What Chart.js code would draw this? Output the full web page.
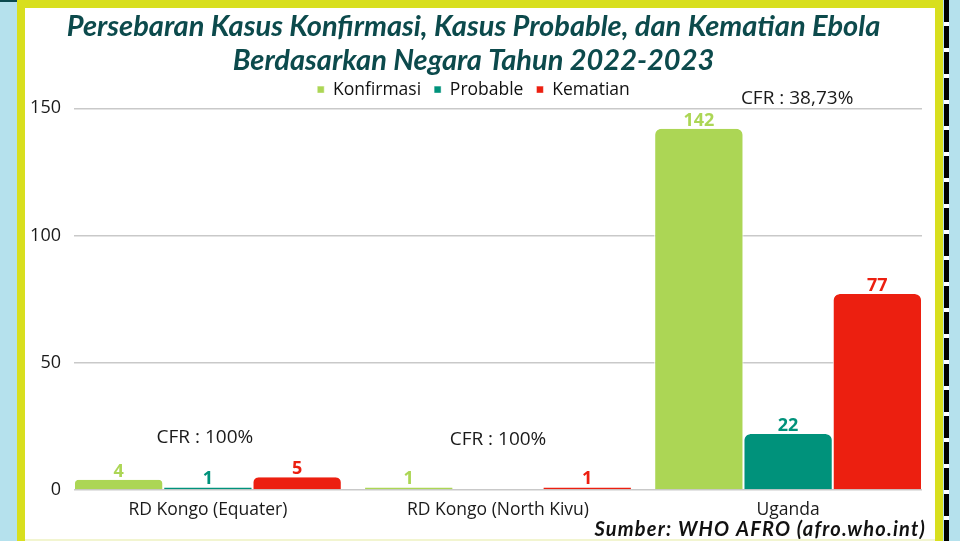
<!DOCTYPE html>
<html>
<head>
<meta charset="utf-8">
<script src="https://cdn.jsdelivr.net/npm/chart.js@4"></script>
<style>
  html, body { margin: 0; padding: 0; }
  body { width: 960px; height: 541px; background: #b5e1ed; position: relative; overflow: hidden; }
  .topline { position: absolute; left: 0; top: 0; width: 17px; height: 2px; background: #0b4a4f; }
  .frame { position: absolute; left: 17px; top: 0; width: 926px; height: 541px; background: #d8df1e; }
  .panel { position: absolute; left: 8px; top: 8px; width: 910px; height: 533px; background: #fff; }
  .dash { position: absolute; left: 944px; top: 0; width: 5px; height: 541px;
          background: repeating-linear-gradient(to bottom, #000 0 22px, #fff 22px 26px); }
  .bottomline { position: absolute; left: 25px; top: 539px; width: 910px; height: 2px; background: #f2f5d0; }
</style>
</head>
<body>
<div class="topline"></div>
<div class="frame"><div class="panel"><canvas id="ebolaChart" width="910" height="533"></canvas></div></div>
<div class="dash"></div>
<div class="bottomline"></div>
<script>
// data kasus ebola per negara
const categories = ['RD Kongo (Equater)', 'RD Kongo (North Kivu)', 'Uganda'];
const konfirmasi = [4, 1, 142];
const probable = [1, 0, 22];
const kematian = [5, 1, 77];
const cfrLabels = ['CFR : 100%', 'CFR : 100%', 'CFR : 38,73%'];
const yTicks = [0, 50, 100, 150];
const sumber = 'Sumber: WHO AFRO (afro.who.int)';

// lebar grup batang (bagian dari satu kategori)
const GROUP = 0.923;

// label angka di atas batang + label CFR per negara + sumber
const valueLabels = {
    id: 'valueLabels',
    afterDatasetsDraw(chart, args, opts) {
        const { ctx, scales } = chart;
        ctx.save();
        ctx.textAlign = 'center';
        ctx.textBaseline = 'alphabetic';
        ctx.font = 'bold 18px "Open Sans"';
        chart.data.datasets.forEach((ds, i) => {
            chart.getDatasetMeta(i).data.forEach((bar, j) => {
                const v = ds.data[j];
                if (!v) return;
                ctx.fillStyle = ds.backgroundColor;
                ctx.fillText(v, bar.x, bar.y - 3);
            });
        });
        // CFR
        ctx.font = '19px "Open Sans"';
        ctx.fillStyle = '#1a1a1a';
        ctx.textBaseline = 'middle';
        cfrLabels.forEach((t, j) => {
            const x = scales.x.getPixelForValue(j) + opts.shift[j];
            const y = scales.y.getPixelForValue(opts.at[j]);
            ctx.fillText(t, x, y);
        });
        // sumber data
        ctx.font = 'italic bold 20px Lato';
        ctx.letterSpacing = '1.2px';
        ctx.fillStyle = '#111';
        ctx.textAlign = 'right';
        ctx.textBaseline = 'alphabetic';
        ctx.fillText(sumber, chart.width - 9, chart.height - 5);
        ctx.restore();
    }
};

const ctx = document.getElementById('ebolaChart');
new Chart(ctx, {
    type: 'bar',
    data: {
        labels: categories.map((c, i) => i),
        datasets: [
            { label: 'Konfirmasi', data: konfirmasi, backgroundColor: '#acd655' },
            { label: 'Probable', data: probable, backgroundColor: '#00927b' },
            { label: 'Kematian', data: kematian, backgroundColor: '#ec1f10' }
        ]
    },
    options: {
        responsive: false,
        animation: false,
        devicePixelRatio: 1,
        layout: { padding: { left: 0, right: 13, top: 0, bottom: 18 } },
        datasets: {
            bar: {
                categoryPercentage: GROUP,
                barPercentage: 1,
                borderRadius: { topLeft: 7, topRight: 7 },
                borderSkipped: 'bottom',
                borderWidth: { left: 1, right: 1 },
                borderColor: '#ffffff'
            }
        },
        plugins: {
            title: {
                display: true,
                text: ['Persebaran Kasus Konfirmasi, Kasus Probable, dan Kematian Ebola',
                       'Berdasarkan Negara Tahun 2022-2023'],
                color: '#0c4a4c',
                font: { family: 'Lato', size: 29, style: 'italic', weight: 'bold', lineHeight: 1.17 },
                padding: { top: 2, bottom: -10 }
            },
            legend: {
                position: 'top',
                labels: {
                    usePointStyle: true,
                    pointStyle: 'rect',
                    boxWidth: 7,
                    boxHeight: 7,
                    padding: 13,
                    color: '#111',
                    font: { family: 'Open Sans', size: 17.5 }
                }
            },
            tooltip: { enabled: false },
            valueLabels: { at: [20.5, 19.7, 154], shift: [-3, 0, 9] }
        },
        scales: {
            y: {
                min: 0,
                max: 150,
                afterBuildTicks: axis => { axis.ticks = yTicks.map(v => ({ value: v })); },
                afterFit: axis => { axis.width = 49; },
                grid: { color: '#c9c9c9', lineWidth: 1.5, drawTicks: false },
                border: { display: false },
                ticks: { color: '#1a1a1a', padding: 13, font: { family: 'Open Sans', size: 18 } }
            },
            x: {
                type: 'linear',
                offset: false,
                min: -GROUP / 2,
                max: categories.length - 1 + GROUP / 2,
                afterBuildTicks: axis => { axis.ticks = categories.map((c, i) => ({ value: i })); },
                grid: { display: false },
                border: { display: false },
                ticks: {
                    color: '#1a1a1a',
                    padding: 2,
                    maxRotation: 0,
                    font: { family: 'Open Sans', size: 17.5 },
                    callback: v => categories[v]
                }
            }
        }
    },
    plugins: [valueLabels]
});
</script>
</body>
</html>
